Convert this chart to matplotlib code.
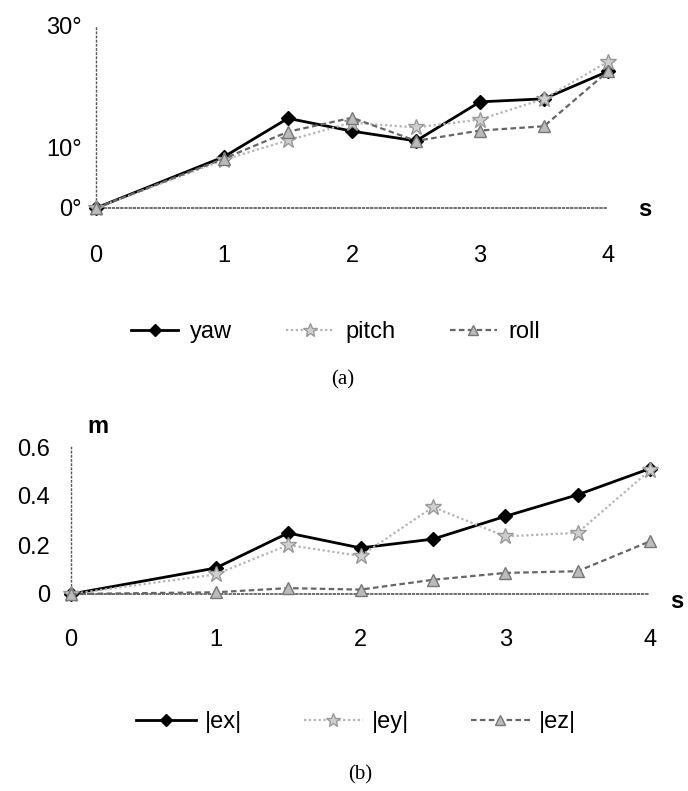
import numpy as np
import matplotlib
matplotlib.use("Agg")
from matplotlib import pyplot as plt

plt.rcParams['font.family'] = ['Liberation Sans', 'DejaVu Sans']

# time samples (s)
t = [0, 1, 1.5, 2, 2.5, 3, 3.5, 4]

# (a) attitude angles, degrees
yaw = [0, 8.4, 14.7, 12.6, 11.0, 17.4, 17.9, 22.4]
pitch = [0, 7.9, 11.1, 14.0, 13.2, 14.5, 17.9, 24.0]
roll = [0, 8.1, 12.5, 14.8, 11.0, 12.7, 13.4, 22.4]
a_yticks = [0, 10, 30]
a_ylabels = ["0°", "10°", "30°"]

# (b) position errors, m
ex = [0, 0.106, 0.249, 0.188, 0.224, 0.317, 0.405, 0.512]
ey = [0, 0.08, 0.20, 0.155, 0.355, 0.235, 0.25, 0.505]
ez = [0, 0.007, 0.024, 0.018, 0.058, 0.086, 0.093, 0.215]
b_yticks = [0, 0.2, 0.4, 0.6]
b_ylabels = ["0", "0.2", "0.4", "0.6"]
xticks = [0, 1, 2, 3, 4]

W, H = 688, 791
fig = plt.figure(figsize=(W / 100, H / 100), dpi=100)


def px_axes(x0, x1, y0, y1):
    # axes rectangle from pixel positions (left, right, bottom, top)
    return fig.add_axes([x0 / W, 1 - y0 / H, (x1 - x0) / W, (y0 - y1) / H])


def style_axes(ax, ypad, xpad):
    for s in ['top', 'right']:
        ax.spines[s].set_visible(False)
    ax.spines['left'].set_linestyle((0, (1, 2)))
    ax.spines['left'].set_color('#555555')
    ax.spines['left'].set_linewidth(1.0)
    ax.spines['bottom'].set_position(('data', 0))
    ax.spines['bottom'].set_linestyle((0, (1, 1.5)))
    ax.spines['bottom'].set_color('#555555')
    ax.spines['bottom'].set_linewidth(1.2)
    ax.tick_params(axis='y', length=0, pad=ypad, labelsize=17)
    ax.tick_params(axis='x', length=0, pad=xpad, labelsize=17)
    ax.set_xlim(0, 4)
    ax.set_xticks(xticks)
    ax.set_xticklabels([str(v) for v in xticks])


styles = [
    dict(color='black', lw=2.0, ls='-', marker='D', ms=7, mfc='black', mec='black'),
    dict(color='#b4b4b4', lw=1.6, ls=(0, (1, 1.2)), marker='*', ms=12, mfc='#cfcfcf', mec='#999999'),
    dict(color='#666666', lw=1.6, ls=(0, (2.5, 1.5)), marker='^', ms=8, mfc='#bbbbbb', mec='#777777'),
]

# ---- (a)
ax1 = px_axes(96, 608, 208, 25)
style_axes(ax1, 10, 27)
ax1.set_ylim(0, 30)
ax1.set_yticks(a_yticks)
ax1.set_yticklabels(a_ylabels)
for y, lab, st in zip([yaw, pitch, roll], ['yaw', 'pitch', 'roll'], styles):
    ax1.plot(t, y, label=lab, clip_on=False, zorder=3, **st)
fig.text(645 / W, 1 - 209 / H, 's', fontsize=17, fontweight='bold', ha='center', va='center')
h, l = ax1.get_legend_handles_labels()
fig.legend(h, l, loc='center', bbox_to_anchor=(0.488, 1 - 332 / H), ncol=3, frameon=False,
           fontsize=17, handlelength=2.0, handletextpad=0.5, columnspacing=2.3, markerscale=0.9)
fig.text(343 / W, 1 - 380 / H, '(a)', fontsize=15, family='Liberation Serif', ha='center', va='center')

# ---- (b)
ax2 = px_axes(71, 650, 594, 447)
style_axes(ax2, 15, 25)
ax2.set_ylim(0, 0.6)
ax2.set_yticks(b_yticks)
ax2.set_yticklabels(b_ylabels)
for y, lab, st in zip([ex, ey, ez], ['|ex|', '|ey|', '|ez|'], styles):
    ax2.plot(t, y, label=lab, clip_on=False, zorder=3, **st)
fig.text(677 / W, 1 - 602 / H, 's', fontsize=17, fontweight='bold', ha='center', va='center')
fig.text(98 / W, 1 - 427 / H, 'm', fontsize=17, fontweight='bold', ha='center', va='center')
h, l = ax2.get_legend_handles_labels()
fig.legend(h, l, loc='center', bbox_to_anchor=(0.518, 1 - 722 / H), ncol=3, frameon=False,
           fontsize=17, handlelength=2.5, handletextpad=0.4, columnspacing=2.6, markerscale=0.9)
fig.text(360 / W, 1 - 775 / H, '(b)', fontsize=15, family='Liberation Serif', ha='center', va='center')

fig.savefig('out.png', dpi=100)
